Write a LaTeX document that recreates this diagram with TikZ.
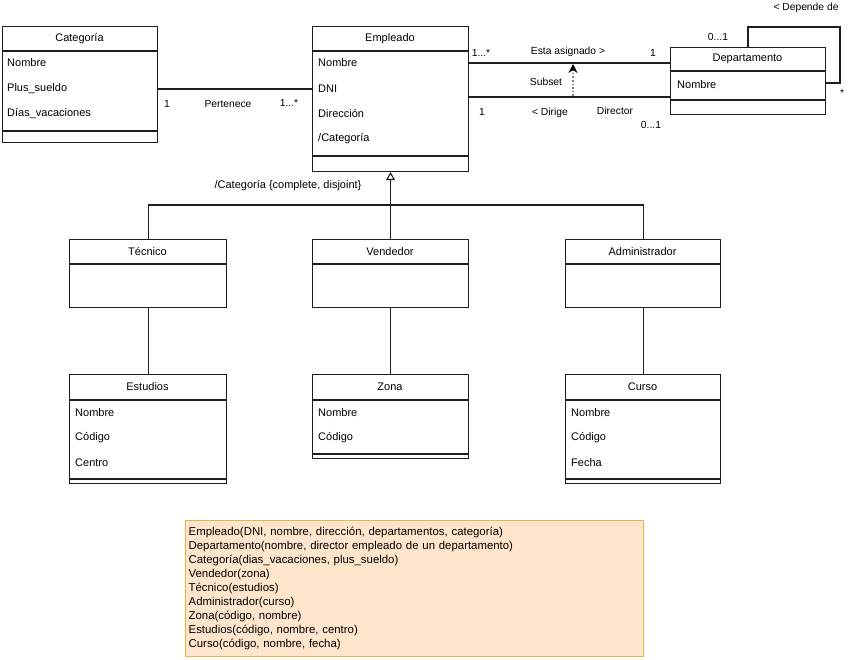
\documentclass[tikz,border=0pt]{standalone}
\usepackage{fontspec}
\setmainfont{Liberation Sans}
\usetikzlibrary{arrows.meta}
\definecolor{notefill}{RGB}{255,229,204}
\definecolor{notedraw}{RGB}{232,180,72}
\definecolor{linec}{RGB}{30,30,30}
\begin{document}
\begin{tikzpicture}[x=1pt,y=-1pt,
  cls/.style={draw=linec, line width=1.1pt, fill=white, anchor=north west, inner sep=0pt},
  ttl/.style={font=\fontsize{11}{13}\selectfont, inner sep=0pt},
  attr/.style={font=\fontsize{11}{13}\selectfont, anchor=west, inner sep=0pt},
  lbl/.style={font=\fontsize{10.3}{12}\selectfont, inner sep=0pt},
  conn/.style={draw=linec, line width=1.1pt},
  comp/.style={draw=linec, line width=1.1pt},
]
\useasboundingbox (0,0) rectangle (848,660);

% ---------- classes ----------
\node[cls, minimum width=155pt, minimum height=116pt] (cat) at (2,26) {};
\draw[comp] (cat.west |- 0,51) -- (cat.east |- 0,51);
\draw[comp] (cat.west |- 0,131) -- (cat.east |- 0,131);
\node[ttl] (catT) at (79.5,38.5) {Categoría};
\node[attr] (catA1) at (7,63) {Nombre};
\node[attr] (catA2) at (7,89) {Plus\_sueldo};
\node[attr] (catA3) at (7,114) {Días\_vacaciones};

\node[cls, minimum width=156pt, minimum height=145pt] (emp) at (312,26) {};
\draw[comp] (emp.west |- 0,51) -- (emp.east |- 0,51);
\draw[comp] (emp.west |- 0,156) -- (emp.east |- 0,156);
\node[ttl] (empT) at (390,38.5) {Empleado};
\node[attr] (empA1) at (318,63) {Nombre};
\node[attr] (empA2) at (318,89) {DNI};
\node[attr] (empA3) at (318,114) {Dirección};
\node[attr] (empA4) at (318,139) {/Categoría};

\node[cls, minimum width=155pt, minimum height=67pt] (dep) at (670,47) {};
\draw[comp] (dep.west |- 0,71) -- (dep.east |- 0,71);
\draw[comp] (dep.west |- 0,100) -- (dep.east |- 0,100);
\node[ttl] (depT) at (747.5,59) {Departamento};
\node[attr] (depA1) at (677,85) {Nombre};

\node[cls, minimum width=157pt, minimum height=68pt] (tec) at (69,239) {};
\draw[comp] (tec.west |- 0,264) -- (tec.east |- 0,264);
\node[ttl] (tecT) at (147.5,252) {Técnico};

\node[cls, minimum width=156pt, minimum height=68pt] (ven) at (312,239) {};
\draw[comp] (ven.west |- 0,264) -- (ven.east |- 0,264);
\node[ttl] (venT) at (390,252) {Vendedor};

\node[cls, minimum width=155pt, minimum height=68pt] (adm) at (565,239) {};
\draw[comp] (adm.west |- 0,264) -- (adm.east |- 0,264);
\node[ttl] (admT) at (642.5,252) {Administrador};

\node[cls, minimum width=157pt, minimum height=109pt] (est) at (69,374) {};
\draw[comp] (est.west |- 0,400) -- (est.east |- 0,400);
\draw[comp] (est.west |- 0,479) -- (est.east |- 0,479);
\node[ttl] (estT) at (147.5,387) {Estudios};
\node[attr] (estA1) at (75,413) {Nombre};
\node[attr] (estA2) at (75,438) {Código};
\node[attr] (estA3) at (75,463) {Centro};

\node[cls, minimum width=156pt, minimum height=84pt] (zon) at (312,374) {};
\draw[comp] (zon.west |- 0,400) -- (zon.east |- 0,400);
\draw[comp] (zon.west |- 0,454) -- (zon.east |- 0,454);
\node[ttl] (zonT) at (390,387) {Zona};
\node[attr] (zonA1) at (318,413) {Nombre};
\node[attr] (zonA2) at (318,438) {Código};

\node[cls, minimum width=155pt, minimum height=109pt] (cur) at (565,374) {};
\draw[comp] (cur.west |- 0,400) -- (cur.east |- 0,400);
\draw[comp] (cur.west |- 0,479) -- (cur.east |- 0,479);
\node[ttl] (curT) at (642.5,387) {Curso};
\node[attr] (curA1) at (571,413) {Nombre};
\node[attr] (curA2) at (571,438) {Código};
\node[attr] (curA3) at (571,463) {Fecha};

% ---------- associations ----------
\draw[conn] (cat.east |- catA2) -- (emp.west |- catA2);
\node[lbl] (m1) at (167,104) {1};
\node[lbl] (pert) at (228,104) {Pertenece};
\node[lbl] (m2) at (289,103) {1...*};

\draw[conn] (emp.east |- empA1) -- (dep.west |- empA1);
\node[lbl] (m3) at (481,53) {1...*};
\node[lbl] (asig) at (568,52) {Esta asignado >};
\node[lbl] (m4) at (653,53) {1};

\coordinate (dirY) at (0,97);
\draw[conn] (emp.east |- dirY) -- (dep.west |- dirY);
\node[lbl] (m5) at (482,112) {1};
\node[lbl] (dirg) at (550,113) {< Dirige};
\node[lbl] (dirc) at (615,111) {Director};
\node[lbl] (m6) at (651,125) {0...1};

% subset
\coordinate (sb1) at (573,96);
\coordinate (sb2) at (573,64);
\draw[gray, line width=1.6pt, dash pattern=on 1.6pt off 2pt, -{Stealth[color=black,length=9pt,width=9pt,inset=3pt]}] (sb1) -- (sb2);
\node[lbl] (subs) at (546,82) {Subset};

% self loop
\coordinate (lp0) at (748,27);
\coordinate (lp1) at (840,27);
\coordinate (lp2) at (840,83);
\draw[conn] (dep.north -| lp0) -- (lp0) -- (lp1) -- (lp2) -- (dep.east |- lp2);
\node[lbl] (m7) at (718,37) {0...1};
\node[lbl] (m8) at (842,93) {*};
\node[lbl] (dep2) at (806,8) {< Depende de};

% ---------- generalization ----------
\coordinate (gy) at (0,205);
\draw[conn, -{Triangle[open,length=8pt,width=9pt]}] (ven.north) -- (emp.south);
\draw[conn] (tec.north) -- (tec.north |- gy) -- (adm.north |- gy) -- (adm.north);
\node[ttl] (gen) at (288,186) {/Categoría \{complete, disjoint\}};

\draw[conn] (tec.south) -- (est.north);
\draw[conn] (ven.south) -- (zon.north);
\draw[conn] (adm.south) -- (cur.north);

% ---------- note ----------
\node[draw=notedraw, line width=1.3pt, fill=notefill, anchor=north west,
      minimum width=458pt, minimum height=136pt, inner xsep=3pt, inner ysep=0pt,
      text width=452pt, align=left, font=\fontsize{11.4}{14}\selectfont] (note) at (185,520)
{Empleado(DNI, nombre, dirección, departamentos, categoría)\\
Departamento(nombre, director empleado de un departamento)\\
Categoría(dias\_vacaciones, plus\_sueldo)\\
Vendedor(zona)\\
Técnico(estudios)\\
Administrador(curso)\\
Zona(código, nombre)\\
Estudios(código, nombre, centro)\\
Curso(código, nombre, fecha)};
\end{tikzpicture}
\end{document}
